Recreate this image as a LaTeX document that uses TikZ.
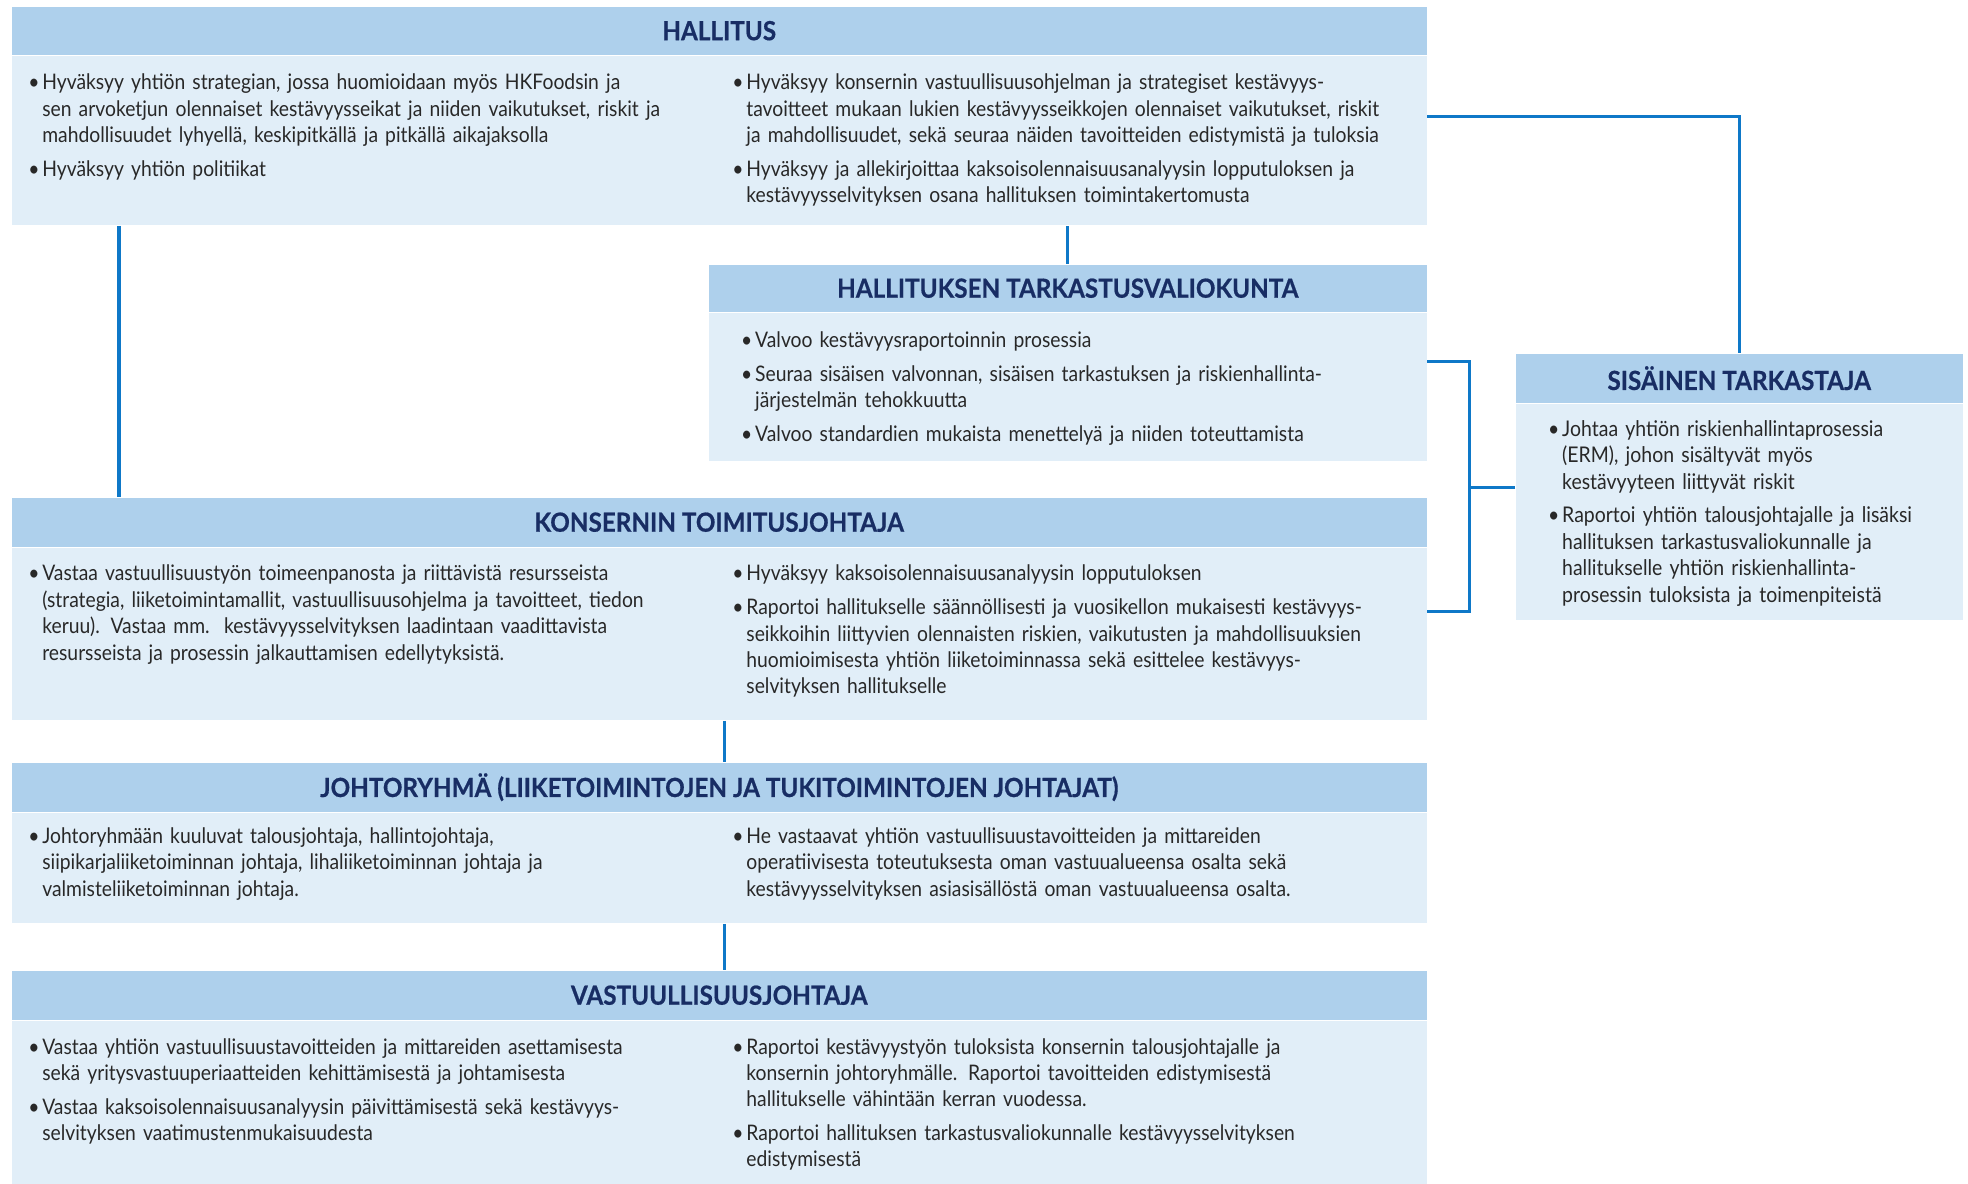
\documentclass[tikz,border=0pt]{standalone}
\usepackage{fontspec}
\setmainfont{Lato}
\newfontfamily\bodyfont[FakeStretch=0.9]{Lato}
\newfontfamily\headfont[FakeStretch=0.92, BoldFeatures={FakeBold=0.6}]{Lato}
\usetikzlibrary{positioning}

\definecolor{headblue}{RGB}{174,208,236}
\definecolor{bodyblue}{RGB}{225,238,248}
\definecolor{titlenavy}{RGB}{24,45,100}
\definecolor{linkblue}{RGB}{14,120,200}
\definecolor{textgray}{RGB}{40,40,40}

\newcommand{\bpoint}[1]{\hangindent=0.14cm\hangafter=1\noindent\makebox[0.14cm][l]{\textbullet}{\let\\\newline#1}\par\vspace{2.1pt}}

\tikzset{
  head/.style={fill=headblue, anchor=north west, inner sep=0pt, text=titlenavy,
    font=\headfont\bfseries\fontsize{7.5}{8.5}\selectfont},
  body/.style={fill=bodyblue, inner sep=0pt},
  txt/.style={anchor=base west, inner sep=0pt, align=left, text width=7cm, text=textgray,
    font=\bodyfont\fontsize{6.1}{7.5}\selectfont\setlength{\parskip}{0pt}},
  link/.style={draw=linkblue, line width=0.9pt}
}

\begin{document}
\begin{tikzpicture}[node distance=0pt]
\useasboundingbox (0,0) rectangle (19.68,-11.84);

% boxes
\node[head, minimum width=14.15cm, minimum height=0.48cm] (halh) at (0.11,-0.06) {HALLITUS};
\node[body, below=of halh, minimum width=14.15cm, minimum height=1.69cm] (halb) {};
\node[head, minimum width=7.18cm, minimum height=0.47cm] (htvh) at (7.08,-2.64) {HALLITUKSEN TARKASTUSVALIOKUNTA};
\node[body, below=of htvh, minimum width=7.18cm, minimum height=1.48cm] (htvb) {};
\node[head, minimum width=4.47cm, minimum height=0.49cm] (sish) at (15.15,-3.53) {SISÄINEN TARKASTAJA};
\node[body, below=of sish, minimum width=4.47cm, minimum height=2.16cm] (sisb) {};
\node[head, minimum width=14.15cm, minimum height=0.49cm] (konh) at (0.11,-4.97) {KONSERNIN TOIMITUSJOHTAJA};
\node[body, below=of konh, minimum width=14.15cm, minimum height=1.72cm] (konb) {};
\node[head, minimum width=14.15cm, minimum height=0.49cm] (johh) at (0.11,-7.62) {JOHTORYHMÄ (LIIKETOIMINTOJEN JA TUKITOIMINTOJEN JOHTAJAT)};
\node[body, below=of johh, minimum width=14.15cm, minimum height=1.10cm] (johb) {};
\node[head, minimum width=14.15cm, minimum height=0.49cm] (vash) at (0.11,-9.70) {VASTUULLISUUSJOHTAJA};
\node[body, below=of vash, minimum width=14.15cm, minimum height=1.63cm] (vasb) {};

% connectors
\draw[link] ([xshift=1.08cm]halb.south west) -- ([xshift=1.08cm]konh.north west);
\draw[link] (htvh.north) -- (htvh.north |- halb.south);
\draw[link] ([yshift=-0.61cm]halb.north east) -| (sish.north);
\draw[link] ([yshift=-0.49cm]htvb.north east) -- ++(0.42,0) |- ([yshift=-0.64cm]konb.north east);
\draw[link] ([yshift=0.25cm]sisb.west) -- ++(-0.47,0);
\draw[link] ([xshift=0.055cm]konb.south) -- ([xshift=0.055cm]johh.north);
\draw[link] ([xshift=0.055cm]johb.south) -- ([xshift=0.055cm]vash.north);

% texts
\node[txt] (hal1) at (0.276,-0.90) {%
\bpoint{Hyväksyy yhtiön strategian, jossa huomioidaan myös HKFoodsin ja\\
sen arvoketjun olennaiset kestävyysseikat ja niiden vaikutukset, riskit ja\\
mahdollisuudet lyhyellä, keskipitkällä ja pitkällä aikajaksolla}
\bpoint{Hyväksyy yhtiön politiikat}};
\node[txt] (hal2) at (7.317,-0.90) {%
\bpoint{Hyväksyy konsernin vastuullisuusohjelman ja strategiset kestävyys-\\
tavoitteet mukaan lukien kestävyysseikkojen olennaiset vaikutukset, riskit\\
ja mahdollisuudet, sekä seuraa näiden tavoitteiden edistymistä ja tuloksia}
\bpoint{Hyväksyy ja allekirjoittaa kaksoisolennaisuusanalyysin lopputuloksen ja\\
kestävyysselvityksen osana hallituksen toimintakertomusta}};
\node[txt] (htv1) at (7.405,-3.475) {%
\bpoint{Valvoo kestävyysraportoinnin prosessia}
\bpoint{Seuraa sisäisen valvonnan, sisäisen tarkastuksen ja riskienhallinta-\\
järjestelmän tehokkuutta}
\bpoint{Valvoo standardien mukaista menettelyä ja niiden toteuttamista}};
\node[txt, text width=4.4cm, font=\bodyfont\fontsize{6.15}{7.5}\selectfont\setlength{\parskip}{0pt}] (sis1) at (15.475,-4.365) {%
\bpoint{Johtaa yhtiön riskienhallintaprosessia\\
(ERM), johon sisältyvät myös\\
kestävyyteen liittyvät riskit}
\bpoint{Raportoi yhtiön talousjohtajalle ja lisäksi\\
hallituksen tarkastusvaliokunnalle ja\\
hallitukselle yhtiön riskienhallinta-\\
prosessin tuloksista ja toimenpiteistä}};
\node[txt] (kon1) at (0.276,-5.81) {%
\bpoint{Vastaa vastuullisuustyön toimeenpanosta ja riittävistä resursseista\\
(strategia, liiketoimintamallit, vastuullisuusohjelma ja tavoitteet, tiedon\\
keruu). Vastaa mm.\ \ kestävyysselvityksen laadintaan vaadittavista\\
resursseista ja prosessin jalkauttamisen edellytyksistä.}};
\node[txt] (kon2) at (7.317,-5.81) {%
\bpoint{Hyväksyy kaksoisolennaisuusanalyysin lopputuloksen}
\bpoint{Raportoi hallitukselle säännöllisesti ja vuosikellon mukaisesti kestävyys-\\
seikkoihin liittyvien olennaisten riskien, vaikutusten ja mahdollisuuksien\\
huomioimisesta yhtiön liiketoiminnassa sekä esittelee kestävyys-\\
selvityksen hallitukselle}};
\node[txt] (joh1) at (0.276,-8.435) {%
\bpoint{Johtoryhmään kuuluvat talousjohtaja, hallintojohtaja,\\
siipikarjaliiketoiminnan johtaja, lihaliiketoiminnan johtaja ja\\
valmisteliiketoiminnan johtaja.}};
\node[txt] (joh2) at (7.317,-8.435) {%
\bpoint{He vastaavat yhtiön vastuullisuustavoitteiden ja mittareiden\\
operatiivisesta toteutuksesta oman vastuualueensa osalta sekä\\
kestävyysselvityksen asiasisällöstä oman vastuualueensa osalta.}};
\node[txt] (vas1) at (0.276,-10.54) {%
\bpoint{Vastaa yhtiön vastuullisuustavoitteiden ja mittareiden asettamisesta\\
sekä yritysvastuuperiaatteiden kehittämisestä ja johtamisesta}
\bpoint{Vastaa kaksoisolennaisuusanalyysin päivittämisestä sekä kestävyys-\\
selvityksen vaatimustenmukaisuudesta}};
\node[txt] (vas2) at (7.317,-10.54) {%
\bpoint{Raportoi kestävyystyön tuloksista konsernin talousjohtajalle ja\\
konsernin johtoryhmälle. Raportoi tavoitteiden edistymisestä\\
hallitukselle vähintään kerran vuodessa.}
\bpoint{Raportoi hallituksen tarkastusvaliokunnalle kestävyysselvityksen\\
edistymisestä}};
\end{tikzpicture}
\end{document}
